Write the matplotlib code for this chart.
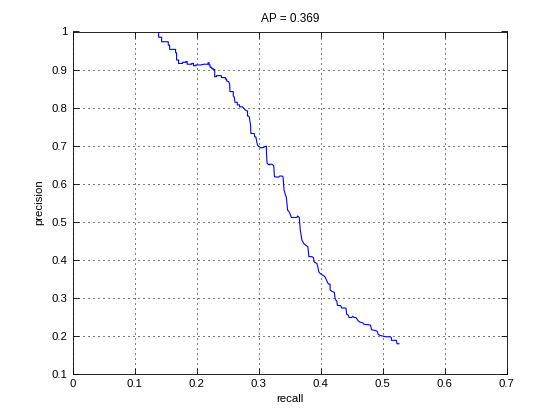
import matplotlib as mpl
import matplotlib.pyplot as plt

# precision / recall vertices
recall = [
    0.1385, 0.1385, 0.1433, 0.1433, 0.1540, 0.1540, 0.1562, 0.1562, 0.1658, 0.1658,
    0.1674, 0.1674, 0.1706, 0.1706, 0.1770, 0.1770, 0.1824, 0.1824, 0.1845, 0.1845,
    0.1920, 0.1920, 0.1947, 0.1947, 0.1984, 0.1984, 0.2059, 0.2118, 0.2182, 0.2182,
    0.2198, 0.2198, 0.2214, 0.2214, 0.2241, 0.2241, 0.2267, 0.2267, 0.2289, 0.2289,
    0.2316, 0.2316, 0.2396, 0.2396, 0.2460, 0.2460, 0.2481, 0.2481, 0.2514, 0.2530,
    0.2535, 0.2588, 0.2588, 0.2604, 0.2615, 0.2653, 0.2653, 0.2690, 0.2690, 0.2733,
    0.2760, 0.2786, 0.2818, 0.2818, 0.2829, 0.2845, 0.2867, 0.2872, 0.2925, 0.2936,
    0.2952, 0.2979, 0.2999, 0.3032, 0.3075, 0.3107, 0.3123, 0.3123, 0.3134, 0.3171,
    0.3171, 0.3214, 0.3241, 0.3252, 0.3321, 0.3337, 0.3375, 0.3391, 0.3407, 0.3417,
    0.3428, 0.3444, 0.3465, 0.3481, 0.3497, 0.3513, 0.3524, 0.3615, 0.3626, 0.3653,
    0.3669, 0.3696, 0.3711, 0.3733, 0.3759, 0.3792, 0.3808, 0.3856, 0.3882, 0.3893,
    0.3936, 0.3952, 0.3968, 0.3989, 0.4043, 0.4069, 0.4086, 0.4123, 0.4150, 0.4150,
    0.4177, 0.4204, 0.4219, 0.4230, 0.4246, 0.4257, 0.4268, 0.4321, 0.4337, 0.4391,
    0.4407, 0.4417, 0.4444, 0.4455, 0.4498, 0.4513, 0.4540, 0.4567, 0.4604, 0.4631,
    0.4674, 0.4700, 0.4765, 0.4802, 0.4818, 0.4872, 0.4898, 0.4914, 0.4925, 0.4952,
    0.5032, 0.5085, 0.5112, 0.5139, 0.5139, 0.5219, 0.5230, 0.5262,
]
precision = [
    1.000, 0.985, 0.985, 0.973, 0.973, 0.964, 0.964, 0.953, 0.953, 0.944,
    0.944, 0.925, 0.925, 0.916, 0.916, 0.919, 0.919, 0.921, 0.921, 0.914,
    0.914, 0.916, 0.916, 0.910, 0.910, 0.912, 0.912, 0.914, 0.914, 0.918,
    0.918, 0.912, 0.912, 0.906, 0.906, 0.902, 0.902, 0.900, 0.900, 0.881,
    0.881, 0.884, 0.884, 0.879, 0.879, 0.875, 0.875, 0.870, 0.868, 0.861,
    0.842, 0.842, 0.831, 0.828, 0.814, 0.814, 0.807, 0.807, 0.802, 0.802,
    0.798, 0.793, 0.791, 0.778, 0.778, 0.776, 0.754, 0.732, 0.732, 0.723,
    0.723, 0.701, 0.698, 0.694, 0.695, 0.698, 0.698, 0.683, 0.653, 0.649,
    0.651, 0.651, 0.647, 0.618, 0.617, 0.620, 0.620, 0.618, 0.583, 0.578,
    0.570, 0.565, 0.530, 0.528, 0.523, 0.517, 0.511, 0.511, 0.515, 0.511,
    0.478, 0.451, 0.447, 0.441, 0.438, 0.434, 0.408, 0.408, 0.405, 0.394,
    0.390, 0.381, 0.368, 0.364, 0.358, 0.355, 0.348, 0.336, 0.336, 0.320,
    0.317, 0.315, 0.314, 0.298, 0.293, 0.292, 0.280, 0.279, 0.273, 0.273,
    0.272, 0.257, 0.254, 0.248, 0.248, 0.251, 0.248, 0.248, 0.239, 0.236,
    0.234, 0.230, 0.229, 0.228, 0.216, 0.214, 0.213, 0.210, 0.204, 0.201,
    0.198, 0.197, 0.198, 0.195, 0.188, 0.188, 0.179, 0.179,
]
ap = 0.369
x_ticks = [0, 0.1, 0.2, 0.3, 0.4, 0.5, 0.6, 0.7]
y_ticks = [0.1, 0.2, 0.3, 0.4, 0.5, 0.6, 0.7, 0.8, 0.9, 1]

mpl.rcParams.update(
    {
        "font.family": ["Liberation Sans", "DejaVu Sans"],
        "font.size": 8.2,
        "xtick.direction": "in",
        "ytick.direction": "in",
        "xtick.top": True,
        "ytick.right": True,
        "xtick.major.size": 4,
        "ytick.major.size": 4,
        "xtick.major.width": 0.6,
        "ytick.major.width": 0.6,
        "axes.linewidth": 0.6,
    }
)

fig = plt.figure(figsize=(5.6, 4.2), dpi=100)
ax = fig.add_axes([0.13, 0.11, 0.775, 0.815])

ax.plot(recall, precision, color="#0000FF", linewidth=0.8)

ax.set_xlim(0, 0.7)
ax.set_ylim(0.1, 1)
ax.set_xticks(x_ticks)
ax.set_yticks(y_ticks)
ax.set_xticklabels([f"{t:g}" for t in x_ticks])
ax.set_yticklabels([f"{t:g}" for t in y_ticks])
ax.tick_params(pad=4)
ax.grid(True, color="black", linewidth=0.72, linestyle=(0, (1, 4)))

ax.set_title(f"AP = {ap:.3f}", fontsize=8.5, pad=7)
ax.set_xlabel("recall", labelpad=3)
ax.set_ylabel("precision", labelpad=5)

fig.savefig("out.png", dpi=100)
